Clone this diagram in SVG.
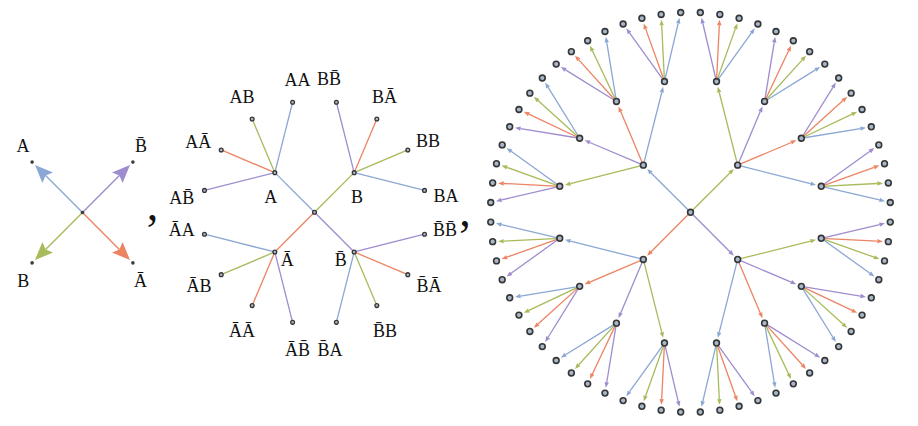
<svg xmlns="http://www.w3.org/2000/svg" width="918" height="426" viewBox="0 0 918 426">
<style>
.lbl{font-family:"Liberation Serif","Times New Roman",serif;font-size:18px;fill:#111;text-anchor:middle}
.sep{font-family:"Liberation Serif","Times New Roman",serif;font-size:46px;fill:#111;text-anchor:middle}
.e line{fill:none}
#edges-left line{stroke-width:1.4}
#edges-middle line{stroke-width:1.3}
#edges-right line{stroke-width:1.3}
.b{stroke:#8ba7d3}.g{stroke:#a6bb5a}.o{stroke:#ec8463}.p{stroke:#9f8ccf}
#edges-right .b{marker-end:url(#sb)}#edges-right .g{marker-end:url(#sg)}#edges-right .o{marker-end:url(#so)}#edges-right .p{marker-end:url(#sp)}
#edges-left .b{marker-end:url(#lb)}#edges-left .g{marker-end:url(#lg)}#edges-left .o{marker-end:url(#lo)}#edges-left .p{marker-end:url(#lp)}
.n1{fill:#3c3c3c}
.n2{fill:#a9b7cb;stroke:#353535;stroke-width:1.3}
.n3{fill:#a9b7cb;stroke:#363636;stroke-width:1.6}
</style>
<defs>
<marker id="sb" markerUnits="userSpaceOnUse" orient="auto" overflow="visible" markerWidth="6" markerHeight="5"><path d="M0,-2.2 L5.6,0 L0,2.2 Z" fill="#8ba7d3"/></marker>
<marker id="sg" markerUnits="userSpaceOnUse" orient="auto" overflow="visible" markerWidth="6" markerHeight="5"><path d="M0,-2.2 L5.6,0 L0,2.2 Z" fill="#a6bb5a"/></marker>
<marker id="so" markerUnits="userSpaceOnUse" orient="auto" overflow="visible" markerWidth="6" markerHeight="5"><path d="M0,-2.2 L5.6,0 L0,2.2 Z" fill="#ec8463"/></marker>
<marker id="sp" markerUnits="userSpaceOnUse" orient="auto" overflow="visible" markerWidth="6" markerHeight="5"><path d="M0,-2.2 L5.6,0 L0,2.2 Z" fill="#9f8ccf"/></marker>
<marker id="lb" markerUnits="userSpaceOnUse" orient="auto" overflow="visible" markerWidth="18" markerHeight="16"><path d="M15,0 L-3,-7.5 L0,0 L-3,7.5 Z" fill="#8ba7d3"/></marker>
<marker id="lg" markerUnits="userSpaceOnUse" orient="auto" overflow="visible" markerWidth="18" markerHeight="16"><path d="M15,0 L-3,-7.5 L0,0 L-3,7.5 Z" fill="#a6bb5a"/></marker>
<marker id="lo" markerUnits="userSpaceOnUse" orient="auto" overflow="visible" markerWidth="18" markerHeight="16"><path d="M15,0 L-3,-7.5 L0,0 L-3,7.5 Z" fill="#ec8463"/></marker>
<marker id="lp" markerUnits="userSpaceOnUse" orient="auto" overflow="visible" markerWidth="18" markerHeight="16"><path d="M15,0 L-3,-7.5 L0,0 L-3,7.5 Z" fill="#9f8ccf"/></marker>
</defs>
<rect width="918" height="426" fill="#fff"/>

<g id="connectors">
<g id="edges-left">
<line x1="82.5" y1="212.5" x2="45.6" y2="175.6" class="b"/>
<line x1="82.5" y1="212.5" x2="119.4" y2="175.6" class="p"/>
<line x1="82.5" y1="212.5" x2="45.6" y2="249.4" class="g"/>
<line x1="82.5" y1="212.5" x2="119.4" y2="249.4" class="o"/>
</g>
<g id="edges-middle">
<line x1="314.5" y1="212.3" x2="274.83" y2="172.63" class="b"/>
<line x1="314.5" y1="212.3" x2="354.17" y2="172.63" class="g"/>
<line x1="314.5" y1="212.3" x2="274.83" y2="251.97" class="o"/>
<line x1="314.5" y1="212.3" x2="354.17" y2="251.97" class="p"/>
<line x1="274.83" y1="172.63" x2="292.61" y2="102.26" class="b"/>
<line x1="274.83" y1="172.63" x2="252.17" y2="119.01" class="g"/>
<line x1="274.83" y1="172.63" x2="221.21" y2="149.97" class="o"/>
<line x1="274.83" y1="172.63" x2="204.46" y2="190.41" class="p"/>
<line x1="354.17" y1="172.63" x2="336.39" y2="102.26" class="p"/>
<line x1="354.17" y1="172.63" x2="376.83" y2="119.01" class="o"/>
<line x1="354.17" y1="172.63" x2="407.79" y2="149.97" class="g"/>
<line x1="354.17" y1="172.63" x2="424.54" y2="190.41" class="b"/>
<line x1="274.83" y1="251.97" x2="204.46" y2="234.19" class="b"/>
<line x1="274.83" y1="251.97" x2="221.21" y2="274.63" class="g"/>
<line x1="274.83" y1="251.97" x2="252.17" y2="305.59" class="o"/>
<line x1="274.83" y1="251.97" x2="292.61" y2="322.34" class="p"/>
<line x1="354.17" y1="251.97" x2="424.54" y2="234.19" class="p"/>
<line x1="354.17" y1="251.97" x2="407.79" y2="274.63" class="o"/>
<line x1="354.17" y1="251.97" x2="376.83" y2="305.59" class="g"/>
<line x1="354.17" y1="251.97" x2="336.39" y2="322.34" class="b"/>
</g>
<g id="edges-right">
<line x1="690.5" y1="212.3" x2="729.88" y2="172.92" class="g"/>
<line x1="690.5" y1="212.3" x2="651.12" y2="172.92" class="b"/>
<line x1="690.5" y1="212.3" x2="651.12" y2="251.68" class="o"/>
<line x1="690.5" y1="212.3" x2="729.88" y2="251.68" class="p"/>
<line x1="737.66" y1="165.14" x2="810.58" y2="183.59" class="b"/>
<line x1="737.66" y1="165.14" x2="791.20" y2="142.52" class="o"/>
<line x1="737.66" y1="165.14" x2="760.28" y2="111.60" class="p"/>
<line x1="737.66" y1="165.14" x2="719.21" y2="92.22" class="g"/>
<line x1="643.34" y1="165.14" x2="570.42" y2="183.59" class="g"/>
<line x1="643.34" y1="165.14" x2="589.80" y2="142.52" class="p"/>
<line x1="643.34" y1="165.14" x2="620.72" y2="111.60" class="o"/>
<line x1="643.34" y1="165.14" x2="661.79" y2="92.22" class="b"/>
<line x1="643.34" y1="259.46" x2="570.42" y2="241.01" class="b"/>
<line x1="643.34" y1="259.46" x2="589.80" y2="282.08" class="o"/>
<line x1="643.34" y1="259.46" x2="620.72" y2="313.00" class="p"/>
<line x1="643.34" y1="259.46" x2="661.79" y2="332.38" class="g"/>
<line x1="737.66" y1="259.46" x2="810.58" y2="241.01" class="g"/>
<line x1="737.66" y1="259.46" x2="791.20" y2="282.08" class="p"/>
<line x1="737.66" y1="259.46" x2="760.28" y2="313.00" class="o"/>
<line x1="737.66" y1="259.46" x2="719.21" y2="332.38" class="b"/>
<line x1="821.24" y1="186.29" x2="879.55" y2="199.98" class="b"/>
<line x1="821.24" y1="186.29" x2="877.35" y2="183.50" class="g"/>
<line x1="821.24" y1="186.29" x2="874.15" y2="167.40" class="o"/>
<line x1="821.24" y1="186.29" x2="869.88" y2="151.34" class="p"/>
<line x1="801.33" y1="138.24" x2="860.44" y2="128.57" class="b"/>
<line x1="801.33" y1="138.24" x2="852.11" y2="114.19" class="g"/>
<line x1="801.33" y1="138.24" x2="842.98" y2="100.54" class="o"/>
<line x1="801.33" y1="138.24" x2="832.89" y2="87.34" class="p"/>
<line x1="764.56" y1="101.47" x2="815.46" y2="69.91" class="b"/>
<line x1="764.56" y1="101.47" x2="802.26" y2="59.82" class="g"/>
<line x1="764.56" y1="101.47" x2="788.61" y2="50.69" class="o"/>
<line x1="764.56" y1="101.47" x2="774.23" y2="42.36" class="p"/>
<line x1="716.51" y1="81.56" x2="751.46" y2="32.92" class="b"/>
<line x1="716.51" y1="81.56" x2="735.40" y2="28.65" class="g"/>
<line x1="716.51" y1="81.56" x2="719.30" y2="25.45" class="o"/>
<line x1="716.51" y1="81.56" x2="702.82" y2="23.25" class="p"/>
<line x1="559.76" y1="186.29" x2="501.45" y2="199.98" class="p"/>
<line x1="559.76" y1="186.29" x2="503.65" y2="183.50" class="o"/>
<line x1="559.76" y1="186.29" x2="506.85" y2="167.40" class="g"/>
<line x1="559.76" y1="186.29" x2="511.12" y2="151.34" class="b"/>
<line x1="579.67" y1="138.24" x2="520.56" y2="128.57" class="p"/>
<line x1="579.67" y1="138.24" x2="528.89" y2="114.19" class="o"/>
<line x1="579.67" y1="138.24" x2="538.02" y2="100.54" class="g"/>
<line x1="579.67" y1="138.24" x2="548.11" y2="87.34" class="b"/>
<line x1="616.44" y1="101.47" x2="565.54" y2="69.91" class="p"/>
<line x1="616.44" y1="101.47" x2="578.74" y2="59.82" class="o"/>
<line x1="616.44" y1="101.47" x2="592.39" y2="50.69" class="g"/>
<line x1="616.44" y1="101.47" x2="606.77" y2="42.36" class="b"/>
<line x1="664.49" y1="81.56" x2="629.54" y2="32.92" class="p"/>
<line x1="664.49" y1="81.56" x2="645.60" y2="28.65" class="o"/>
<line x1="664.49" y1="81.56" x2="661.70" y2="25.45" class="g"/>
<line x1="664.49" y1="81.56" x2="678.18" y2="23.25" class="b"/>
<line x1="559.76" y1="238.31" x2="501.45" y2="224.62" class="b"/>
<line x1="559.76" y1="238.31" x2="503.65" y2="241.10" class="g"/>
<line x1="559.76" y1="238.31" x2="506.85" y2="257.20" class="o"/>
<line x1="559.76" y1="238.31" x2="511.12" y2="273.26" class="p"/>
<line x1="579.67" y1="286.36" x2="520.56" y2="296.03" class="b"/>
<line x1="579.67" y1="286.36" x2="528.89" y2="310.41" class="g"/>
<line x1="579.67" y1="286.36" x2="538.02" y2="324.06" class="o"/>
<line x1="579.67" y1="286.36" x2="548.11" y2="337.26" class="p"/>
<line x1="616.44" y1="323.13" x2="565.54" y2="354.69" class="b"/>
<line x1="616.44" y1="323.13" x2="578.74" y2="364.78" class="g"/>
<line x1="616.44" y1="323.13" x2="592.39" y2="373.91" class="o"/>
<line x1="616.44" y1="323.13" x2="606.77" y2="382.24" class="p"/>
<line x1="664.49" y1="343.04" x2="629.54" y2="391.68" class="b"/>
<line x1="664.49" y1="343.04" x2="645.60" y2="395.95" class="g"/>
<line x1="664.49" y1="343.04" x2="661.70" y2="399.15" class="o"/>
<line x1="664.49" y1="343.04" x2="678.18" y2="401.35" class="p"/>
<line x1="821.24" y1="238.31" x2="879.55" y2="224.62" class="p"/>
<line x1="821.24" y1="238.31" x2="877.35" y2="241.10" class="o"/>
<line x1="821.24" y1="238.31" x2="874.15" y2="257.20" class="g"/>
<line x1="821.24" y1="238.31" x2="869.88" y2="273.26" class="b"/>
<line x1="801.33" y1="286.36" x2="860.44" y2="296.03" class="p"/>
<line x1="801.33" y1="286.36" x2="852.11" y2="310.41" class="o"/>
<line x1="801.33" y1="286.36" x2="842.98" y2="324.06" class="g"/>
<line x1="801.33" y1="286.36" x2="832.89" y2="337.26" class="b"/>
<line x1="764.56" y1="323.13" x2="815.46" y2="354.69" class="p"/>
<line x1="764.56" y1="323.13" x2="802.26" y2="364.78" class="o"/>
<line x1="764.56" y1="323.13" x2="788.61" y2="373.91" class="g"/>
<line x1="764.56" y1="323.13" x2="774.23" y2="382.24" class="b"/>
<line x1="716.51" y1="343.04" x2="751.46" y2="391.68" class="p"/>
<line x1="716.51" y1="343.04" x2="735.40" y2="395.95" class="o"/>
<line x1="716.51" y1="343.04" x2="719.30" y2="399.15" class="g"/>
<line x1="716.51" y1="343.04" x2="702.82" y2="401.35" class="b"/>
</g>
</g>

<g id="left-graph">
<g id="l-root"><circle cx="82.5" cy="212.5" r="1.8" class="n1"/></g>
<g id="l-A"><circle cx="32.1" cy="162.1" r="1.8" class="n1"/><text x="23" y="152" class="lbl">A</text></g>
<g id="l-Bbar"><circle cx="132.9" cy="162.1" r="1.8" class="n1"/><text x="141" y="152" class="lbl">B&#x304;</text></g>
<g id="l-B"><circle cx="32.1" cy="262.9" r="1.8" class="n1"/><text x="23.3" y="286.7" class="lbl">B</text></g>
<g id="l-Abar"><circle cx="132.9" cy="262.9" r="1.8" class="n1"/><text x="140.5" y="286.7" class="lbl">&#x100;</text></g>
</g>

<g id="middle-graph">
<g id="m-root"><circle cx="314.5" cy="212.3" r="1.9" class="n2"/></g>
<g id="m-A"><circle cx="274.83" cy="172.63" r="1.9" class="n2"/><text x="270.8" y="203.3" class="lbl">A</text></g>
<g id="m-B"><circle cx="354.17" cy="172.63" r="1.9" class="n2"/><text x="357" y="202.7" class="lbl">B</text></g>
<g id="m-Abar"><circle cx="274.83" cy="251.97" r="1.9" class="n2"/><text x="287.3" y="266" class="lbl">&#x100;</text></g>
<g id="m-Bbar"><circle cx="354.17" cy="251.97" r="1.9" class="n2"/><text x="340.8" y="266" class="lbl">B&#x304;</text></g>
<g id="m-AA"><circle cx="292.61" cy="102.26" r="1.9" class="n2"/><text x="297.5" y="85.5" class="lbl">AA</text></g>
<g id="m-AB"><circle cx="252.17" cy="119.01" r="1.9" class="n2"/><text x="242" y="102.7" class="lbl">AB</text></g>
<g id="m-AAbar"><circle cx="221.21" cy="149.97" r="1.9" class="n2"/><text x="198.3" y="148.3" class="lbl">A&#x100;</text></g>
<g id="m-ABbar"><circle cx="204.46" cy="190.41" r="1.9" class="n2"/><text x="181.8" y="204" class="lbl">AB&#x304;</text></g>
<g id="m-BBbar"><circle cx="336.39" cy="102.26" r="1.9" class="n2"/><text x="329" y="85" class="lbl">BB&#x304;</text></g>
<g id="m-BAbar"><circle cx="376.83" cy="119.01" r="1.9" class="n2"/><text x="384.5" y="103.3" class="lbl">B&#x100;</text></g>
<g id="m-BB"><circle cx="407.79" cy="149.97" r="1.9" class="n2"/><text x="428" y="146.7" class="lbl">BB</text></g>
<g id="m-BA"><circle cx="424.54" cy="190.41" r="1.9" class="n2"/><text x="446" y="201.7" class="lbl">BA</text></g>
<g id="m-AbarA"><circle cx="204.46" cy="234.19" r="1.9" class="n2"/><text x="181.8" y="236" class="lbl">&#x100;A</text></g>
<g id="m-AbarB"><circle cx="221.21" cy="274.63" r="1.9" class="n2"/><text x="199" y="292.3" class="lbl">&#x100;B</text></g>
<g id="m-AbarAbar"><circle cx="252.17" cy="305.59" r="1.9" class="n2"/><text x="242" y="337.3" class="lbl">&#x100;&#x100;</text></g>
<g id="m-AbarBbar"><circle cx="292.61" cy="322.34" r="1.9" class="n2"/><text x="297.5" y="355.7" class="lbl">&#x100;B&#x304;</text></g>
<g id="m-BbarBbar"><circle cx="424.54" cy="234.19" r="1.9" class="n2"/><text x="445" y="236" class="lbl">B&#x304;B&#x304;</text></g>
<g id="m-BbarAbar"><circle cx="407.79" cy="274.63" r="1.9" class="n2"/><text x="429" y="291.7" class="lbl">B&#x304;&#x100;</text></g>
<g id="m-BbarB"><circle cx="376.83" cy="305.59" r="1.9" class="n2"/><text x="385" y="337.3" class="lbl">B&#x304;B</text></g>
<g id="m-BbarA"><circle cx="336.39" cy="322.34" r="1.9" class="n2"/><text x="330" y="355.7" class="lbl">B&#x304;A</text></g>
</g>

<g id="separators">
<text x="152.5" y="220" class="sep">,</text>
<text x="465" y="226" class="sep">,</text>
</g>

<g id="right-graph">
<g id="r-root"><circle cx="690.5" cy="212.3" r="2.9" class="n3"/></g>
<g id="r-TR"><circle cx="737.66" cy="165.14" r="2.9" class="n3"/></g>
<g id="r-TL"><circle cx="643.34" cy="165.14" r="2.9" class="n3"/></g>
<g id="r-BL"><circle cx="643.34" cy="259.46" r="2.9" class="n3"/></g>
<g id="r-BR"><circle cx="737.66" cy="259.46" r="2.9" class="n3"/></g>
<g id="r-TR-0"><circle cx="821.24" cy="186.29" r="2.9" class="n3"/></g>
<g id="r-TR-1"><circle cx="801.33" cy="138.24" r="2.9" class="n3"/></g>
<g id="r-TR-2"><circle cx="764.56" cy="101.47" r="2.9" class="n3"/></g>
<g id="r-TR-3"><circle cx="716.51" cy="81.56" r="2.9" class="n3"/></g>
<g id="r-TL-0"><circle cx="559.76" cy="186.29" r="2.9" class="n3"/></g>
<g id="r-TL-1"><circle cx="579.67" cy="138.24" r="2.9" class="n3"/></g>
<g id="r-TL-2"><circle cx="616.44" cy="101.47" r="2.9" class="n3"/></g>
<g id="r-TL-3"><circle cx="664.49" cy="81.56" r="2.9" class="n3"/></g>
<g id="r-BL-0"><circle cx="559.76" cy="238.31" r="2.9" class="n3"/></g>
<g id="r-BL-1"><circle cx="579.67" cy="286.36" r="2.9" class="n3"/></g>
<g id="r-BL-2"><circle cx="616.44" cy="323.13" r="2.9" class="n3"/></g>
<g id="r-BL-3"><circle cx="664.49" cy="343.04" r="2.9" class="n3"/></g>
<g id="r-BR-0"><circle cx="821.24" cy="238.31" r="2.9" class="n3"/></g>
<g id="r-BR-1"><circle cx="801.33" cy="286.36" r="2.9" class="n3"/></g>
<g id="r-BR-2"><circle cx="764.56" cy="323.13" r="2.9" class="n3"/></g>
<g id="r-BR-3"><circle cx="716.51" cy="343.04" r="2.9" class="n3"/></g>
<g id="r-TR-l0"><circle cx="890.26" cy="202.49" r="2.9" class="n3"/></g>
<g id="r-TR-l1"><circle cx="888.34" cy="182.95" r="2.9" class="n3"/></g>
<g id="r-TR-l2"><circle cx="884.51" cy="163.70" r="2.9" class="n3"/></g>
<g id="r-TR-l3"><circle cx="878.81" cy="144.92" r="2.9" class="n3"/></g>
<g id="r-TR-l4"><circle cx="871.30" cy="126.79" r="2.9" class="n3"/></g>
<g id="r-TR-l5"><circle cx="862.05" cy="109.48" r="2.9" class="n3"/></g>
<g id="r-TR-l6"><circle cx="851.14" cy="93.16" r="2.9" class="n3"/></g>
<g id="r-TR-l7"><circle cx="838.69" cy="77.99" r="2.9" class="n3"/></g>
<g id="r-TR-l8"><circle cx="824.81" cy="64.11" r="2.9" class="n3"/></g>
<g id="r-TR-l9"><circle cx="809.64" cy="51.66" r="2.9" class="n3"/></g>
<g id="r-TR-l10"><circle cx="793.32" cy="40.75" r="2.9" class="n3"/></g>
<g id="r-TR-l11"><circle cx="776.01" cy="31.50" r="2.9" class="n3"/></g>
<g id="r-TR-l12"><circle cx="757.88" cy="23.99" r="2.9" class="n3"/></g>
<g id="r-TR-l13"><circle cx="739.10" cy="18.29" r="2.9" class="n3"/></g>
<g id="r-TR-l14"><circle cx="719.85" cy="14.46" r="2.9" class="n3"/></g>
<g id="r-TR-l15"><circle cx="700.31" cy="12.54" r="2.9" class="n3"/></g>
<g id="r-TL-l0"><circle cx="490.74" cy="202.49" r="2.9" class="n3"/></g>
<g id="r-TL-l1"><circle cx="492.66" cy="182.95" r="2.9" class="n3"/></g>
<g id="r-TL-l2"><circle cx="496.49" cy="163.70" r="2.9" class="n3"/></g>
<g id="r-TL-l3"><circle cx="502.19" cy="144.92" r="2.9" class="n3"/></g>
<g id="r-TL-l4"><circle cx="509.70" cy="126.79" r="2.9" class="n3"/></g>
<g id="r-TL-l5"><circle cx="518.95" cy="109.48" r="2.9" class="n3"/></g>
<g id="r-TL-l6"><circle cx="529.86" cy="93.16" r="2.9" class="n3"/></g>
<g id="r-TL-l7"><circle cx="542.31" cy="77.99" r="2.9" class="n3"/></g>
<g id="r-TL-l8"><circle cx="556.19" cy="64.11" r="2.9" class="n3"/></g>
<g id="r-TL-l9"><circle cx="571.36" cy="51.66" r="2.9" class="n3"/></g>
<g id="r-TL-l10"><circle cx="587.68" cy="40.75" r="2.9" class="n3"/></g>
<g id="r-TL-l11"><circle cx="604.99" cy="31.50" r="2.9" class="n3"/></g>
<g id="r-TL-l12"><circle cx="623.12" cy="23.99" r="2.9" class="n3"/></g>
<g id="r-TL-l13"><circle cx="641.90" cy="18.29" r="2.9" class="n3"/></g>
<g id="r-TL-l14"><circle cx="661.15" cy="14.46" r="2.9" class="n3"/></g>
<g id="r-TL-l15"><circle cx="680.69" cy="12.54" r="2.9" class="n3"/></g>
<g id="r-BL-l0"><circle cx="490.74" cy="222.11" r="2.9" class="n3"/></g>
<g id="r-BL-l1"><circle cx="492.66" cy="241.65" r="2.9" class="n3"/></g>
<g id="r-BL-l2"><circle cx="496.49" cy="260.90" r="2.9" class="n3"/></g>
<g id="r-BL-l3"><circle cx="502.19" cy="279.68" r="2.9" class="n3"/></g>
<g id="r-BL-l4"><circle cx="509.70" cy="297.81" r="2.9" class="n3"/></g>
<g id="r-BL-l5"><circle cx="518.95" cy="315.12" r="2.9" class="n3"/></g>
<g id="r-BL-l6"><circle cx="529.86" cy="331.44" r="2.9" class="n3"/></g>
<g id="r-BL-l7"><circle cx="542.31" cy="346.61" r="2.9" class="n3"/></g>
<g id="r-BL-l8"><circle cx="556.19" cy="360.49" r="2.9" class="n3"/></g>
<g id="r-BL-l9"><circle cx="571.36" cy="372.94" r="2.9" class="n3"/></g>
<g id="r-BL-l10"><circle cx="587.68" cy="383.85" r="2.9" class="n3"/></g>
<g id="r-BL-l11"><circle cx="604.99" cy="393.10" r="2.9" class="n3"/></g>
<g id="r-BL-l12"><circle cx="623.12" cy="400.61" r="2.9" class="n3"/></g>
<g id="r-BL-l13"><circle cx="641.90" cy="406.31" r="2.9" class="n3"/></g>
<g id="r-BL-l14"><circle cx="661.15" cy="410.14" r="2.9" class="n3"/></g>
<g id="r-BL-l15"><circle cx="680.69" cy="412.06" r="2.9" class="n3"/></g>
<g id="r-BR-l0"><circle cx="890.26" cy="222.11" r="2.9" class="n3"/></g>
<g id="r-BR-l1"><circle cx="888.34" cy="241.65" r="2.9" class="n3"/></g>
<g id="r-BR-l2"><circle cx="884.51" cy="260.90" r="2.9" class="n3"/></g>
<g id="r-BR-l3"><circle cx="878.81" cy="279.68" r="2.9" class="n3"/></g>
<g id="r-BR-l4"><circle cx="871.30" cy="297.81" r="2.9" class="n3"/></g>
<g id="r-BR-l5"><circle cx="862.05" cy="315.12" r="2.9" class="n3"/></g>
<g id="r-BR-l6"><circle cx="851.14" cy="331.44" r="2.9" class="n3"/></g>
<g id="r-BR-l7"><circle cx="838.69" cy="346.61" r="2.9" class="n3"/></g>
<g id="r-BR-l8"><circle cx="824.81" cy="360.49" r="2.9" class="n3"/></g>
<g id="r-BR-l9"><circle cx="809.64" cy="372.94" r="2.9" class="n3"/></g>
<g id="r-BR-l10"><circle cx="793.32" cy="383.85" r="2.9" class="n3"/></g>
<g id="r-BR-l11"><circle cx="776.01" cy="393.10" r="2.9" class="n3"/></g>
<g id="r-BR-l12"><circle cx="757.88" cy="400.61" r="2.9" class="n3"/></g>
<g id="r-BR-l13"><circle cx="739.10" cy="406.31" r="2.9" class="n3"/></g>
<g id="r-BR-l14"><circle cx="719.85" cy="410.14" r="2.9" class="n3"/></g>
<g id="r-BR-l15"><circle cx="700.31" cy="412.06" r="2.9" class="n3"/></g>
</g>
</svg>
